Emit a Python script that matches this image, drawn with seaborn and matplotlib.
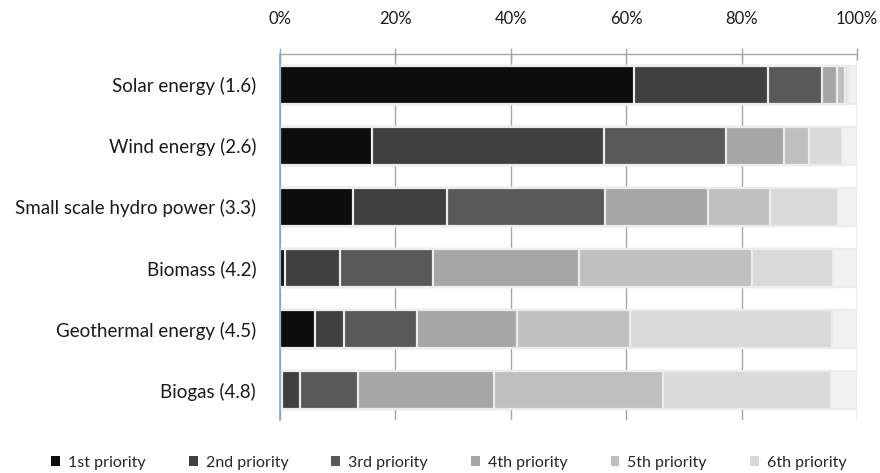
import numpy as np
import pandas as pd
import matplotlib
matplotlib.use("Agg")
import matplotlib.pyplot as plt
from matplotlib.patches import Patch
from matplotlib.ticker import FuncFormatter
import seaborn as sns

# Share of respondents (%) giving each priority rank, per energy source
categories = ["Solar energy (1.6)", "Wind energy (2.6)", "Small scale hydro power (3.3)",
              "Biomass (4.2)", "Geothermal energy (4.5)", "Biogas (4.8)"]
priority_labels = ["1st priority", "2nd priority", "3rd priority",
                   "4th priority", "5th priority", "6th priority"]
p1 = [61.4, 15.9, 12.6, 0.9, 6.1, 0.4]
p2 = [23.2, 40.3, 16.3, 9.6, 5.1, 3.1]
p3 = [9.4, 21.1, 27.5, 16.0, 12.5, 10.1]
p4 = [2.6, 10.0, 17.7, 25.4, 17.3, 23.5]
p5 = [1.3, 4.4, 10.8, 29.9, 19.6, 29.2]
p6 = [0.5, 5.6, 11.8, 14.1, 35.1, 29.1]
p7 = [1.6, 2.7, 3.3, 4.1, 4.3, 4.6]

colors = ["#0d0d0d", "#404040", "#595959", "#a6a6a6", "#bfbfbf", "#d9d9d9", "#f2f2f2"]

sns.set_style("white")
plt.rcParams["font.family"] = ["Lato", "DejaVu Sans"]

shares = np.array([p1, p2, p3, p4, p5, p6, p7])
cum = np.cumsum(shares, axis=0)

fig = plt.figure(figsize=(8.8, 4.73), dpi=100)
ax = fig.add_axes([0.318, 0.111, 0.656, 0.774])

# Stacked bars: draw cumulative totals from the longest to the shortest
for k in range(len(shares) - 1, -1, -1):
    df = pd.DataFrame({"share": cum[k], "source": categories})
    sns.barplot(data=df, x="share", y="source", order=categories, orient="h",
                color=colors[k], width=0.62, edgecolor="#ececec", linewidth=1.6,
                saturation=1, ax=ax)

ax.set_xlim(0, 100)
ax.set_ylim(5.5, -0.5)
ax.set_xlabel("")
ax.set_ylabel("")
ax.set_xticks(np.arange(0, 101, 20))
ax.xaxis.set_major_formatter(FuncFormatter(lambda v, _: f"{v:.0f}%"))
ax.xaxis.tick_top()
ax.set_axisbelow(True)
ax.grid(axis="x", color="#a6a6a6", linewidth=1.0)
ax.grid(axis="y", visible=False)

for side in ["right", "bottom"]:
    ax.spines[side].set_visible(False)
ax.spines["top"].set_color("#a6a6a6")
ax.spines["top"].set_linewidth(1.0)
ax.spines["left"].set_color("#7fa6d6")
ax.spines["left"].set_linewidth(1.2)

ax.tick_params(axis="x", which="major", direction="inout", length=9, width=1,
               color="#a6a6a6", labelsize=12, pad=15, labelcolor="#1a1a1a")
ax.tick_params(axis="y", which="major", length=0, labelsize=13.5, pad=17,
               labelcolor="#1a1a1a")
ax.set_yticks(np.arange(-0.5, 6, 1), minor=True)
ax.tick_params(axis="y", which="minor", length=5, width=1.2, color="#7fa6d6",
               direction="out")

handles = [Patch(facecolor=colors[i], edgecolor="none") for i in range(6)]
fig.legend(handles, priority_labels, loc="center", bbox_to_anchor=(0.510, 0.022),
           ncol=6, frameon=False, fontsize=11.5, handlelength=0.55, handleheight=0.55,
           handletextpad=0.5, columnspacing=2.7)

fig.savefig("out.png", dpi=100)
